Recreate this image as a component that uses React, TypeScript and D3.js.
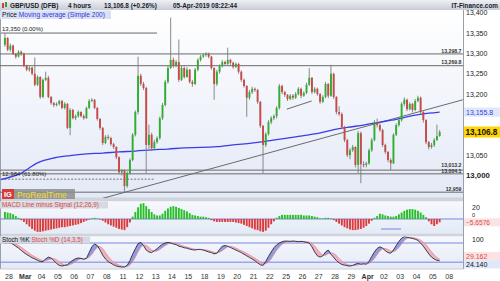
import React from "react";
import * as d3 from "d3";

// ---------- DATA ----------
const START_K = -2; // first candle index (27 Feb 16:00); k=0 is 28 Feb 00:00, 6 candles per day
const FIRST_OPEN = 13321;
const closes = [13338,13309,
13319,13299,13292,13304,13299,13269,
13260,13265,13250,13223,13242,13193,
13235,13240,13193,13178,13173,13176,
13183,13166,13176,13117,13161,13141,
13146,13156,13146,13141,13166,13183,
13186,13166,13139,13117,13080,13095,
13092,13077,13070,13045,13008,13013,
12974,13006,13038,13100,13156,13245,
13225,13215,13075,13100,13067,13082,
13092,13141,13173,13230,13264,13284,
13269,13279,13235,13264,13242,13260,
13230,13225,13260,13284,13292,13296,
13299,13292,13264,13225,13255,13269,
13279,13274,13284,13277,13267,13274,
13255,13235,13220,13191,13205,13213,
13210,13181,13122,13075,13102,13131,
13141,13146,13166,13220,13205,13198,
13188,13196,13191,13200,13213,13196,
13203,13223,13240,13205,13213,13200,
13181,13193,13225,13196,13250,13193,
13156,13151,13119,13087,13050,13062,
13070,13026,13104,13028,13026,13030,
13062,13087,13131,13124,13112,13075,
13058,13038,13030,13100,13124,13136,
13176,13186,13163,13176,13161,13183,
13191,13156,13136,13082,13070,13075,
13087,13097,13106.8];
const highs = [13350,13340,
13324,13322,13301,13308,13307,13302,
13272,13268,13267,13290,13246,13244,
13238,13255,13245,13195,13181,13180,
13186,13186,13180,13178,13166,13164,
13150,13160,13158,13150,13169,13188,
13190,13188,13168,13141,13119,13099,
13100,13095,13080,13072,13047,13016,
13015,13010,13042,13104,13160,13292,
13250,13230,13218,13125,13105,13088,
13096,13145,13178,13235,13270,13388,
13290,13284,13334,13270,13268,13266,
13262,13235,13264,13288,13296,13300,
13303,13302,13294,13266,13260,13273,
13284,13282,13314,13287,13280,13278,
13277,13258,13238,13222,13210,13218,
13216,13213,13183,13124,13106,13136,
13146,13150,13170,13225,13223,13208,
13200,13200,13200,13205,13217,13216,
13207,13228,13264,13242,13217,13216,
13203,13197,13230,13227,13272,13252,
13195,13170,13155,13122,13090,13067,
13075,13072,13110,13108,13035,13034,
13066,13092,13136,13140,13128,13115,
13078,13060,13042,13104,13128,13140,
13180,13192,13189,13180,13178,13188,
13196,13194,13158,13138,13085,13080,
13092,13125,13112];
const lows = [13316,13305,
13304,13296,13287,13290,13294,13266,
13256,13255,13246,13219,13220,13188,
13190,13232,13190,13174,13168,13170,
13172,13163,13162,13114,13099,13138,
13136,13142,13143,13137,13139,13163,
13180,13163,13135,13112,13075,13077,
13088,13073,13065,13040,13003,13000,
12959,12970,13002,13035,13096,13150,
13220,13210,13006,13065,13060,13062,
13078,13088,13136,13170,13226,13262,
13265,13266,13230,13232,13238,13240,
13226,13218,13222,13256,13280,13289,
13292,13288,13260,13186,13220,13250,
13265,13270,13270,13272,13262,13264,
13250,13230,13216,13144,13186,13200,
13205,13176,13117,13006,13070,13098,
13126,13136,13140,13162,13200,13193,
13183,13185,13186,13188,13197,13190,
13193,13200,13220,13200,13202,13196,
13176,13178,13190,13190,13193,13188,
13150,13146,13114,13082,13045,13040,
13058,13020,13006,12981,13020,13020,
13026,13058,13084,13118,13107,13070,
13053,13033,13013,13028,13097,13120,
13132,13170,13158,13160,13155,13158,
13180,13150,13130,13077,13064,13066,
13070,13085,13095];

// Simple 200 moving average, read at candle indices
const maK = [-3.5,4,10,16,22,28,34,40,46,52,58,64,70,76,82,88,94,100,106,112,118,124,130,136,142,148,154,158];
const maV = [12990,13006,13031,13043,13049,13053,13055,13058,13060,13063,13065,13068,13069,13071,13075,13079,13084,13090,13096,13102,13111,13118,13124,13131,13138,13147,13153,13155.8];

// MACD line minus signal histogram
const macdHist = [12,11,
10,8,5,2,-2,-5,
-9,-13,-17,-20,-22,-22,
-21,-20,-19,-18,-17,-16,
-15,-14,-14,-13,-12,-11,
-10,-9,-7,-5,-3,-1,
1,2,1,-1,-3,-6,
-9,-11,-13,-15,-17,-18,
-19,-14,-6,4,12,20,
26,27,22,17,12,8,
6,6,9,14,18,21,
22,21,19,17,15,13,
10,7,6,5,4,4,
3,2,-2,-4,-5,-5,
-5,-5,-5,-5,-5,-6,
-7,-8,-10,-12,-14,-16,
-18,-19,-21,-22,-20,-15,
-9,-4,2,5,7,7,
7,7,7,7,7,7,
6,6,6,5,4,3,
1,1,2,2,1,-2,
-5,-8,-11,-14,-16,-18,
-19,-19,-18,-17,-15,-12,
-8,-3,2,5,9,8,
6,5,4,4,5,8,
11,14,16,17,17,16,
14,11,7,3,-4,-9,
-12,-9,-5.6576];

// Stochastic %K and %D (14,3,5)
const stochK = [80,82,
80,76,70,64,57,50,
44,39,34,30,26,22,
22,30,36,33,25,16,
10,8,10,12,20,26,
31,33,32,29,32,50,
68,77,72,58,42,30,
22,17,12,8,6,5,
5,10,25,45,62,78,
82,72,58,52,50,56,
62,70,76,80,82,80,
77,75,70,68,65,64,
61,59,58,60,60,58,
55,52,50,46,48,60,
70,72,70,66,62,58,
54,50,45,40,35,30,
25,18,12,10,22,38,
52,65,74,80,84,86,
86,85,86,85,84,85,
84,82,80,68,52,40,
36,40,52,58,45,35,
25,18,13,11,9,8,
10,14,16,14,15,14,
22,38,52,63,68,64,
56,50,48,58,72,85,
95,100,98,96,94,92,
88,80,70,58,46,36,
30,26,24.14];
const stochD = [78,79,
80,79.5,77,72.5,66.8,60.3,
53.8,47.5,41.8,36.8,32.3,28,
25,25,27.5,30.3,31,27.5,
21,14.8,11,10,12.5,17,
22.3,27.5,30.5,31.3,31.5,35.8,
44.8,56.8,66.8,68.8,62.3,50.5,
38,27.8,20.3,14.8,10.8,7.8,
6,6.5,11.3,21.3,35.5,52.5,
66.8,73.5,72.5,66,58,54,
55,59.5,66,72,77,79.5,
79.8,78.5,75.5,72.5,69.5,66.8,
64.5,62.3,60.5,59.5,59.3,59,
58.3,56.3,53.8,50.8,49,51,
56,62.5,68,69.5,67.5,64,
60,56,51.8,47.3,42.5,37.5,
32.5,27,21.3,16.3,15.5,20.5,
30.5,44.3,57.3,67.8,75.8,81,
84,85.3,85.8,85.5,85,85,
84.5,83.8,82.8,78.5,70.5,60,
49,42,42,46.5,48.8,47.5,
40.8,30.8,22.8,16.8,12.8,10.3,
9.5,10.3,12,13.5,14.8,14.8,
16.3,22.3,31.5,43.8,55.3,61.8,
62.8,59.5,54.5,53,57,65.8,
77.5,88,94.5,97.3,97,95,
92.5,88.5,82.5,74,63.5,52.5,
42.5,34.5,29.162];

const dayLabels = ["28","Mar","04","05","06","07","08","11","12","13","14","15","18","19","20","21","22","25","26","27","28","29","Apr","02","03","04","05","08"];
// 13,150 and 13,100 sit under the value boxes in the reference, so they are not shown
const priceTicks = [13400,13350,13300,13250,13200,13050,13000];
const macdTicks = [20, 0];
const stochTicks = [100];
const stochLevels = [80, 20];

// horizontal price levels drawn across the chart (label offset from line, px)
const levels = [
  { value: 13298.7, label: "13,298.7", dy: -1.4 },
  { value: 13269.8, label: "13,269.8", dy: -1.4 },
  { value: 13013.2, label: "13,013.2", dy: -3.3 },
  { value: 13004.1, label: "13,004.1", dy: -0.7 },
  { value: 12959, label: "12,959", dy: -1.4 },
];
const fibTop = { value: 13350, label: "13,350 (0.00%)", k1: -2.9, k2: 54.5 };
const fibLow = { value: 12991, label: "12,984 (61.80%)", k1: -2.9, k2: 53.5 };
const trendMain = [[34, 12943], [167, 13186]];
const trendShort = [[102.2, 13163], [111.4, 13183]];

const lastPrice = 13106.8;
const lastMA = 13155.8;
const lastMacd = -5.6576;
const lastK = 24.14;
const lastD = 29.162;

// ---------- LAYOUT ----------
const W = 500, H = 281;
const AX = 463.5; // right axis line
const FONT = "'Liberation Sans', Arial, sans-serif";
const fmt = d3.format(",.0f");

export default function App() {
  const x = d3.scaleLinear().domain([0, 160]).range([9, 9 + 160 * 2.717]);
  const y = d3.scaleLinear().domain([13000, 13400]).range([175.5, 12.7]);
  const ym = d3.scaleLinear().domain([-30, 30]).range([236.55, 201.45]);
  const ys = d3.scaleLinear().domain([0, 100]).range([268.6, 236.6]);
  const cx = (k: number) => x(k + 0.5);

  const candles = closes.map((c, i) => ({
    k: i + START_K,
    open: i === 0 ? FIRST_OPEN : closes[i - 1],
    close: c,
    high: highs[i],
    low: lows[i],
  }));

  const maLine = d3.line<number>()
    .x((_, i) => cx(maK[i]))
    .y((v) => y(v))
    .curve(d3.curveMonotoneX)(maV) as string;

  const kLine = d3.line<number>().x((_, i) => cx(i + START_K)).y((v) => ys(v))(stochK) as string;
  const dLine = d3.line<number>().x((_, i) => cx(i + START_K)).y((v) => ys(v))(stochD) as string;
  const upArea = d3.area<number>()
    .x((_, i) => cx(i + START_K))
    .y0((_, i) => ys(stochD[i]))
    .y1((v, i) => ys(Math.max(v, stochD[i])))(stochK) as string;
  const dnArea = d3.area<number>()
    .x((_, i) => cx(i + START_K))
    .y0((_, i) => ys(stochD[i]))
    .y1((v, i) => ys(Math.min(v, stochD[i])))(stochK) as string;

  const bodyW = 1.9;

  return (
    <svg width={W} height={H} style={{ position: "absolute", left: 0, top: 0, fontFamily: FONT }}>
      <defs>
        <linearGradient id="hdr" x1="0" y1="0" x2="0" y2="1">
          <stop offset="0" stopColor="#eef0f4" />
          <stop offset="1" stopColor="#c7ccd6" />
        </linearGradient>
        <linearGradient id="mainbg" x1="0" y1="0" x2="0" y2="1">
          <stop offset="0" stopColor="#ffffff" />
          <stop offset="1" stopColor="#e3e9f6" />
        </linearGradient>
        <linearGradient id="subbg" x1="0" y1="0" x2="0" y2="1">
          <stop offset="0" stopColor="#f6f8fd" />
          <stop offset="1" stopColor="#e4eaf6" />
        </linearGradient>
        <clipPath id="clipMain"><rect x={0} y={10} width={AX} height={188} /></clipPath>
        <clipPath id="clipMacd"><rect x={0} y={201} width={AX} height={32.5} /></clipPath>
        <clipPath id="clipStoch"><rect x={0} y={236.5} width={AX} height={32.5} /></clipPath>
      </defs>

      <rect x={0} y={0} width={W} height={H} fill="#ffffff" />
      {/* panel backgrounds */}
      <rect x={0} y={10} width={AX} height={188} fill="url(#mainbg)" />
      <rect x={0} y={197.5} width={AX} height={4} fill="#cfd3db" />
      <rect x={0} y={201.5} width={AX} height={32} fill="url(#subbg)" />
      <rect x={0} y={233.5} width={AX} height={3} fill="#cfd3db" />
      <rect x={0} y={236.5} width={AX} height={32.5} fill="url(#subbg)" />
      <line x1={0.5} x2={0.5} y1={10} y2={269} stroke="#9aa0aa" strokeWidth={1} />

      {/* ---------- MAIN PRICE PANEL ---------- */}
      <g clipPath="url(#clipMain)">
        {levels.map((l) => (
          <line key={l.label} x1={0} x2={AX} y1={y(l.value)} y2={y(l.value)} stroke="#6a6a6a" strokeWidth={1} />
        ))}
        <line x1={x(fibTop.k1)} x2={x(fibTop.k2)} y1={y(fibTop.value)} y2={y(fibTop.value)} stroke="#6a6a6a" strokeWidth={1} />
        <line x1={x(fibLow.k1)} x2={x(fibLow.k2)} y1={y(fibLow.value)} y2={y(fibLow.value)} stroke="#555" strokeWidth={0.8} strokeDasharray="2,1.5" />
        <line x1={x(trendMain[0][0])} y1={y(trendMain[0][1])} x2={x(trendMain[1][0])} y2={y(trendMain[1][1])} stroke="#6a6a6a" strokeWidth={1} />
        <line x1={x(trendShort[0][0])} y1={y(trendShort[0][1])} x2={x(trendShort[1][0])} y2={y(trendShort[1][1])} stroke="#6a6a6a" strokeWidth={1} />

        <path d={maLine} fill="none" stroke="#3c3ce6" strokeWidth={1.3} />

        {candles.map((c) => (
          <line key={"w" + c.k} x1={cx(c.k)} x2={cx(c.k)} y1={y(c.high)} y2={y(c.low)} stroke="#7d7d7d" strokeWidth={0.9} />
        ))}
        {candles.map((c) => {
          const up = c.close >= c.open;
          const top = y(Math.max(c.open, c.close));
          const h = Math.max(1, Math.abs(y(c.open) - y(c.close)));
          return (
            <rect key={"b" + c.k} x={cx(c.k) - bodyW / 2} y={top} width={bodyW} height={h}
              fill={up ? "#2fae2f" : "#c94848"} />
          );
        })}

        <text x={2} y={y(fibTop.value) - 2} fontSize={6} fill="#222">{fibTop.label}</text>
        <text x={2} y={y(fibLow.value) - 3.5} fontSize={6} fill="#222">{fibLow.label}</text>
        {levels.map((l) => (
          <text key={"t" + l.label} x={AX - 2} y={y(l.value) + l.dy} fontSize={5.2} fontWeight="bold" fill="#333" textAnchor="end">{l.label}</text>
        ))}
      </g>

      {/* ProRealTime logo */}
      <rect x={2} y={189} width={12} height={10} fill="#d63b3b" />
      <text x={8} y={197} fontSize={7.5} fontWeight="bold" fill="#fff" textAnchor="middle">IG</text>
      <rect x={14} y={189} width={61} height={10} fill="#8d8d8d" opacity={0.85} />
      <text x={17} y={197.6} fontSize={8.6} fill="#f1dc2a">ProRealTime</text>

      {/* ---------- MACD PANEL ---------- */}
      <g clipPath="url(#clipMacd)">
        <line x1={0} x2={AX} y1={ym(0)} y2={ym(0)} stroke="#7b86e0" strokeWidth={1} />
        {macdHist.map((v, i) => {
          const k = i + START_K;
          return (
            <rect key={"m" + k} x={cx(k) - 0.95} width={1.9}
              y={Math.min(ym(v), ym(0))} height={Math.abs(ym(v) - ym(0))}
              fill={v >= 0 ? "#27c027" : "#dd3b3b"} />
          );
        })}
      </g>
      <rect x={0} y={201.5} width={108} height={7} fill="#d5d9e1" />
      <text x={2} y={207.4} fontSize={6.3} fill="#e04848">MACD Line minus Signal (12,26,9)</text>

      {/* ---------- STOCHASTIC PANEL ---------- */}
      <g clipPath="url(#clipStoch)">
        {stochLevels.map((l) => (
          <line key={"sl" + l} x1={0} x2={AX} y1={ys(l)} y2={ys(l)} stroke="#7b86e0" strokeWidth={1} />
        ))}
        <path d={upArea} fill="#5d6cd0" opacity={0.65} />
        <path d={dnArea} fill="#eea3ad" opacity={0.8} />
        <path d={dLine} fill="none" stroke="#e5909a" strokeWidth={0.9} />
        <path d={kLine} fill="none" stroke="#2a2a3a" strokeWidth={0.9} />
      </g>
      <line x1={381} x2={401} y1={229} y2={229} stroke="#7b86e0" strokeWidth={1} />
      <rect x={0} y={236.5} width={90} height={7} fill="#d5d9e1" />
      <text x={2} y={242.4} fontSize={6.3} fill="#111">Stoch %K <tspan fill="#e04848">Stoch %D (14,3,5)</tspan></text>

      {/* ---------- RIGHT AXIS ---------- */}
      <line x1={AX} x2={AX} y1={10} y2={269} stroke="#9aa0aa" strokeWidth={1} />
      <line x1={0} x2={AX} y1={269} y2={269} stroke="#c8ccd4" strokeWidth={1} />
      {priceTicks.map((t) => (
        <text key={"pt" + t} x={466} y={y(t) + 2.5} fontSize={t === 13000 ? 7.8 : 7}
          fontWeight={t === 13000 ? "bold" : "normal"} fill="#222">{fmt(t)}</text>
      ))}
      <rect x={464} y={y(lastMA) - 4.6} width={36} height={9.2} fill="#dfe7fb" />
      <text x={466} y={y(lastMA) + 2.5} fontSize={7} fill="#3c3ce6">{d3.format(",.1f")(lastMA)}</text>
      <rect x={464} y={y(lastPrice) - 5.5} width={36} height={11} fill="#ffd400" />
      <text x={465.5} y={y(lastPrice) + 3} fontSize={8.2} fontWeight="bold" fill="#111">{d3.format(",.1f")(lastPrice)}</text>

      {macdTicks.map((t) => (
        <text key={"mt" + t} x={472} y={t === 0 ? ym(t) - 1.6 : ym(t) + 2.5} fontSize={t === 0 ? 5.5 : 7} fill="#222">{t}</text>
      ))}
      <rect x={464} y={ym(lastMacd) - 4} width={36} height={8} fill="#fbe3e3" />
      <text x={466} y={ym(lastMacd) + 2.6} fontSize={6.6} fill="#e04848">{d3.format(".4f")(lastMacd)}</text>

      {stochTicks.map((t) => (
        <text key={"st" + t} x={472} y={ys(t) + 5} fontSize={7} fill="#222">{t}</text>
      ))}
      <rect x={464} y={252} width={36} height={8.2} fill="#fbe3e3" />
      <text x={466} y={258.7} fontSize={7} fill="#e04848">{d3.format(".3f")(lastD)}</text>
      <rect x={464} y={260.2} width={36} height={8.2} fill="#dfe7fb" />
      <text x={466} y={266.9} fontSize={7} fill="#111">{d3.format(".3f")(lastK)}</text>

      {/* ---------- X AXIS ---------- */}
      {dayLabels.map((d, i) => (
        <text key={"d" + i} x={x(i * 6)} y={279} fontSize={7} fill="#333" textAnchor="middle"
          fontWeight={d === "Mar" || d === "Apr" ? "bold" : "normal"}>{d}</text>
      ))}

      {/* ---------- HEADER ---------- */}
      <rect x={0} y={0} width={W} height={10} fill="url(#hdr)" />
      <rect x={2} y={3} width={2} height={5} fill="#d04040" />
      <rect x={5} y={2} width={2} height={5} fill="#30a030" />
      <g fontSize={6.4} fontWeight="bold" fill="#1a1d2a">
        <text x={10} y={8}>GBP/USD (DFB)</text>
        <text x={68} y={8}>4 hours</text>
        <text x={104} y={8}>13,106.8 (+0.26%)</text>
        <text x={173} y={8}>05-Apr-2019 08:22:44</text>
        <text x={498} y={8} textAnchor="end">IT-Finance.com</text>
      </g>
      <rect x={0} y={10.5} width={111} height={8.5} fill="#d9e2f4" />
      <text x={2} y={17.3} fontSize={6.6} fill="#111">Price <tspan fill="#3535d8">Moving average (Simple 200)</tspan></text>
    </svg>
  );
}
